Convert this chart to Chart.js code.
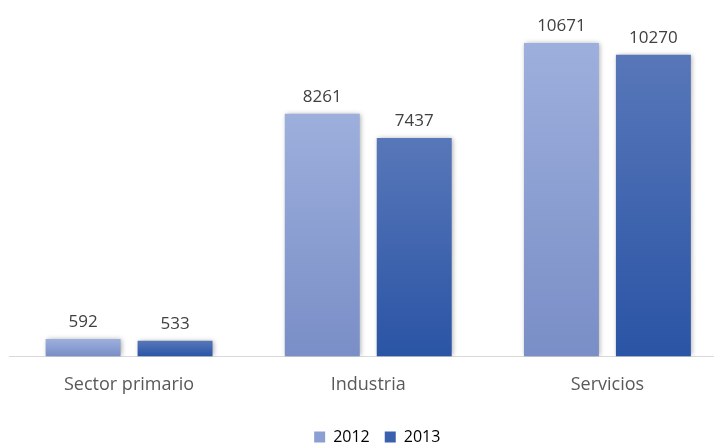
<!DOCTYPE html>
<html>
<head>
<meta charset="utf-8">
<script src="https://cdn.jsdelivr.net/npm/chart.js@4/dist/chart.umd.min.js"></script>
<style>
  html, body { margin: 0; padding: 0; background: #fff; overflow: hidden; }
  #wrap { width: 714px; height: 445px; overflow: hidden; }
</style>
</head>
<body>
<div id="wrap"><canvas id="c" width="755" height="445"></canvas></div>
<script>
// Sectores — valores 2012 / 2013
const categories = ['Sector primario', 'Industria', 'Servicios'];
const seriesNames = ['2012', '2013'];
const values2012 = [592, 8261, 10671];
const values2013 = [533, 7437, 10270];

const FONT = '"Open Sans", sans-serif';

// top / bottom gradient stops per series
const GRAD = [
  ['#9dafdc', '#7a8ec7'],
  ['#5877b9', '#2a54a5'],
];
const LEGEND_COLORS = ['#8c9fd3', '#3a60ae'];

function barGradient(ctx, di) {
  const chart = ctx.chart;
  const y = chart.scales.y;
  if (!chart.chartArea || !y || ctx.raw == null) return GRAD[di][1];
  const top = y.getPixelForValue(ctx.raw);
  const bot = y.getPixelForValue(0);
  const g = chart.ctx.createLinearGradient(0, top, 0, bot);
  g.addColorStop(0, GRAD[di][0]);
  g.addColorStop(1, GRAD[di][1]);
  return g;
}

const barDecor = {
  id: 'barDecor',
  afterLayout(chart) {
    // legend sits a little right of the plot centre in the original
    if (chart.legend) { chart.legend.left += 9; chart.legend.right += 9; }
  },
  beforeDatasetsDraw(chart) {
    const c = chart.ctx;
    c.save();
    c.shadowColor = 'rgba(0,0,0,0.35)';
    c.shadowBlur = 5;
    c.shadowOffsetX = 1;
    c.shadowOffsetY = 0;
  },
  afterDatasetsDraw(chart) {
    const c = chart.ctx;
    c.restore();
    c.save();
    c.fillStyle = '#404040';
    c.font = '17px ' + FONT;
    c.textAlign = 'center';
    c.textBaseline = 'alphabetic';
    chart.data.datasets.forEach((ds, i) => {
      chart.getDatasetMeta(i).data.forEach((bar, j) => {
        c.fillText(String(ds.data[j]), bar.x, bar.y - 12);
      });
    });
    c.restore();
  },
};

new Chart(document.getElementById('c'), {
  type: 'bar',
  data: {
    labels: categories,
    datasets: [
      { label: seriesNames[0], data: values2012, backgroundColor: (ctx) => barGradient(ctx, 0) },
      { label: seriesNames[1], data: values2013, backgroundColor: (ctx) => barGradient(ctx, 1) },
    ],
  },
  options: {
    responsive: false,
    animation: false,
    layout: { padding: { top: 4, left: 9.5, right: 28, bottom: -10 } },
    categoryPercentage: 0.769,
    barPercentage: 0.815,
    scales: {
      x: {
        grid: { display: false, drawTicks: false },
        border: { display: true, color: '#d9d9d9', width: 1 },
        ticks: { color: '#595959', font: { family: FONT, size: 18 }, padding: 18 },
      },
      y: { display: false, min: 0, max: 12000 },
    },
    plugins: {
      legend: {
        position: 'bottom',
        labels: {
          color: '#595959',
          font: { family: FONT, size: 16 },
          boxWidth: 11,
          boxHeight: 11,
          padding: 15,
          generateLabels: (chart) => chart.data.datasets.map((ds, i) => ({
            text: ds.label,
            fillStyle: LEGEND_COLORS[i],
            strokeStyle: LEGEND_COLORS[i],
            lineWidth: 0,
            datasetIndex: i,
          })),
        },
      },
      tooltip: { enabled: false },
    },
  },
  plugins: [barDecor],
});
</script>
</body>
</html>
